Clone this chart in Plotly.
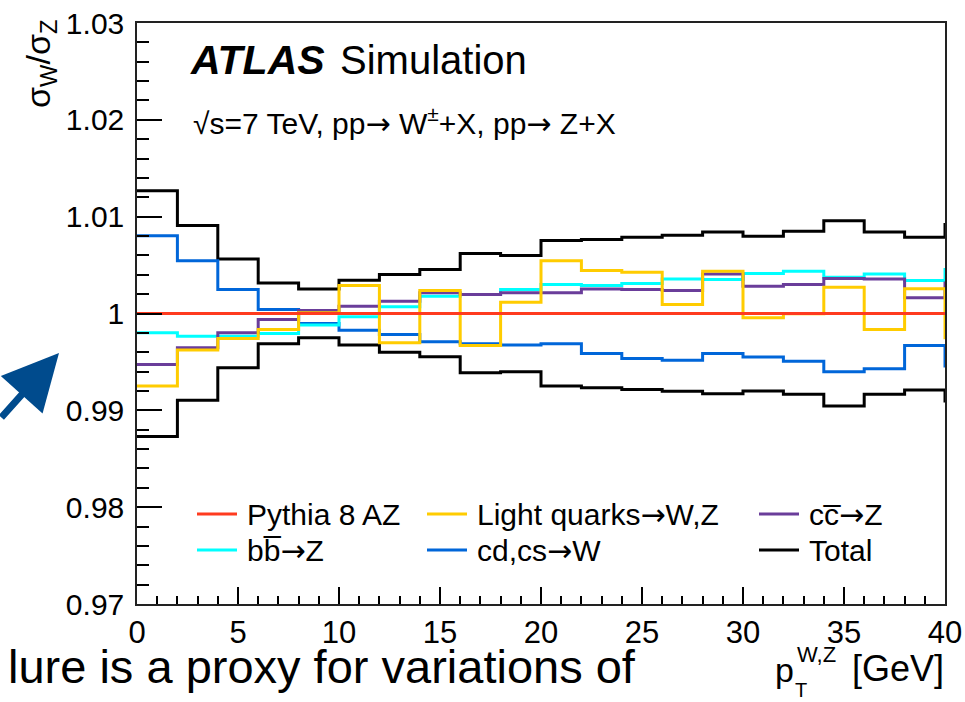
import plotly.graph_objects as go

# ---------------- data (bin left edges, 2 GeV bins; last value = first bin beyond 40 GeV) -------------
edges = [0, 2, 4, 6, 8, 10, 12, 14, 16, 18, 20, 22, 24, 26, 28, 30, 32, 34, 36, 38, 40, 42]

total_up = [1.01268, 1.00910, 1.00564, 1.00316, 1.00254, 1.00343, 1.00402, 1.00454, 1.00619, 1.00598,
            1.00753, 1.00763, 1.00787, 1.00807, 1.00842, 1.00797, 1.00849, 1.00959, 1.00842, 1.00787,
            1.00918]
total_down = [0.98729, 0.99103, 0.99440, 0.99688, 0.99749, 0.99674, 0.99601, 0.99553, 0.99388, 0.99399,
              0.99251, 0.99234, 0.99216, 0.99196, 0.99172, 0.99199, 0.99165, 0.99045, 0.99165, 0.99210,
              0.99096]
cdcs_w = [1.00804, 1.00546, 1.00247, 1.00041, 0.99897, 0.99828, 0.99784, 0.99708, 0.99688, 0.99674,
          0.99688, 0.99588, 0.99536, 0.99517, 0.99588, 0.99550, 0.99508, 0.99399, 0.99430, 0.99670,
          0.99457]
bb_z = [0.99801, 0.99766, 0.99766, 0.99794, 0.99880, 0.99966, 1.00069, 1.00179, 1.00196, 1.00247,
        1.00299, 1.00289, 1.00309, 1.00357, 1.00350, 1.00412, 1.00436, 1.00374, 1.00409, 1.00340,
        1.00454]
cc_z = [0.99474, 0.99646, 0.99801, 0.99938, 1.00031, 1.00076, 1.00127, 1.00213, 1.00196, 1.00213,
        1.00213, 1.00254, 1.00247, 1.00237, 1.00409, 1.00282, 1.00299, 1.00361, 1.00357, 1.00162,
        1.00316]
light_q = [0.99251, 0.99622, 0.99742, 0.99835, 1.00007, 1.00289, 0.99698, 1.00237, 0.99670, 1.00117,
           1.00546, 1.00443, 1.00426, 1.00093, 1.00436, 0.99956, 0.99997, 1.00271, 0.99835, 1.00255,
           0.99750]
pythia = [1.0, 1.0, 1.0, 1.0, 1.0, 1.0, 1.0, 1.0, 1.0, 1.0,
          1.0, 1.0, 1.0, 1.0, 1.0, 1.0, 1.0, 1.0, 1.0, 1.0,
          1.0]

y_tickvals = [0.97, 0.98, 0.99, 1.00, 1.01, 1.02, 1.03]
y_ticktext = ["0.97", "0.98", "0.99", "1", "1.01", "1.02", "1.03"]
x_tickvals = [0, 5, 10, 15, 20, 25, 30, 35, 40]
x_ticktext = ["0", "5", "10", "15", "20", "25", "30", "35", "40"]

# ---------------- styling -------------
W, H = 965, 702
L, R, T, B = 137, 945, 23, 604
FONT = "Liberation Sans, Arial, Helvetica, sans-serif"
ARROW = "<span style='font-family:DejaVu Sans'>→</span>"

C_RED = "#ff3b1f"
C_YEL = "#ffcc00"
C_PUR = "#6a3d9a"
C_CYA = "#00ffff"
C_BLU = "#0066d9"
C_BLK = "#000000"


def px(x):
    return (x - L) / (R - L)


def py(y):
    return (B - y) / (B - T)


def stepped(vals):
    return list(vals) + [vals[-1]]


fig = go.Figure()
series = [
    ("Total", total_up, C_BLK),
    ("Total", total_down, C_BLK),
    ("cd,cs→W", cdcs_w, C_BLU),
    ("bb→Z", bb_z, C_CYA),
    ("cc→Z", cc_z, C_PUR),
    ("Light quarks→W,Z", light_q, C_YEL),
    ("Pythia 8 AZ", pythia, C_RED),
]
for name, vals, col in series:
    fig.add_trace(go.Scatter(
        x=edges, y=stepped(vals), mode="lines", line_shape="hv",
        line=dict(color=col, width=3), name=name, showlegend=False,
        hoverinfo="skip"))

annotations = []
shapes = []

# legend (manual, ROOT-like 3 columns x 2 rows)
legend_items = [
    ("Pythia 8 AZ", C_RED, 197, 514),
    ("Light quarks" + ARROW + "W,Z", C_YEL, 427, 514),
    ("cc\u0305" + ARROW + "Z", C_PUR, 759, 514),
    ("bb\u0305" + ARROW + "Z", C_CYA, 197, 550),
    ("cd,cs" + ARROW + "W", C_BLU, 427, 550),
    ("Total", C_BLK, 759, 550),
]
for text, col, x0, yc in legend_items:
    shapes.append(dict(type="line", xref="paper", yref="paper",
                       x0=px(x0), x1=px(x0 + 40), y0=py(yc), y1=py(yc),
                       line=dict(color=col, width=3)))
    annotations.append(dict(xref="paper", yref="paper", x=px(x0 + 48), y=py(yc),
                            xanchor="left", yanchor="middle", showarrow=False,
                            text=text, font=dict(family=FONT, size=30, color="black")))

# ATLAS label
annotations.append(dict(xref="paper", yref="paper", x=px(188), y=py(60), xanchor="left",
                        yanchor="middle", showarrow=False, text="<b><i>ATLAS</i></b>",
                        font=dict(family=FONT, size=41, color="black")))
annotations.append(dict(xref="paper", yref="paper", x=px(338), y=py(60), xanchor="left",
                        yanchor="middle", showarrow=False, text="Simulation",
                        font=dict(family=FONT, size=40, color="black")))
annotations.append(dict(xref="paper", yref="paper", x=px(191), y=py(121), xanchor="left",
                        yanchor="middle", showarrow=False,
                        text="√s=7 TeV, pp" + ARROW + " W<sup>±</sup>+X, pp" + ARROW + " Z+X",
                        font=dict(family=FONT, size=30, color="black")))

# y-axis title
annotations.append(dict(xref="paper", yref="paper", x=px(40), y=py(64), xanchor="center",
                        yanchor="middle", showarrow=False, textangle=-90,
                        text="σ<sub>W</sub>/σ<sub>Z</sub>",
                        font=dict(family=FONT, size=34, color="black")))

# x-axis title (stacked sub/superscript)
annotations.append(dict(xref="paper", yref="paper", x=px(773), y=py(670), xanchor="left",
                        yanchor="middle", showarrow=False, text="p",
                        font=dict(family=FONT, size=34, color="black")))
annotations.append(dict(xref="paper", yref="paper", x=px(795), y=py(654), xanchor="left",
                        yanchor="middle", showarrow=False, text="W,Z",
                        font=dict(family=FONT, size=22, color="black")))
annotations.append(dict(xref="paper", yref="paper", x=px(793), y=py(690), xanchor="left",
                        yanchor="middle", showarrow=False, text="T",
                        font=dict(family=FONT, size=20, color="black")))
annotations.append(dict(xref="paper", yref="paper", x=px(946), y=py(668), xanchor="right",
                        yanchor="middle", showarrow=False, text="[GeV]",
                        font=dict(family=FONT, size=36, color="black")))

# slide text under the plot
annotations.append(dict(xref="paper", yref="paper", x=px(638), y=py(666), xanchor="right",
                        yanchor="middle", showarrow=False, text="lure is a proxy for variations of",
                        font=dict(family=FONT, size=47, color="black")))

# blue arrow from the slide
annotations.append(dict(xref="paper", yref="paper", x=px(59), y=py(353), showarrow=True,
                        ax=-85, ay=66, arrowhead=2, arrowsize=1.6, arrowwidth=7,
                        arrowcolor="#004b8d", text=""))

fig.update_layout(
    width=W, height=H,
    margin=dict(l=L, r=W - R, t=T, b=H - B, pad=0, autoexpand=False),
    paper_bgcolor="white", plot_bgcolor="white",
    showlegend=False,
    font=dict(family=FONT, size=30, color="black"),
    annotations=annotations, shapes=shapes,
    xaxis=dict(range=[0, 40], tickvals=x_tickvals, ticktext=x_ticktext, automargin=False,
               ticks="inside", ticklen=17, tickwidth=1.5, tickcolor="black",
               minor=dict(ticks="inside", ticklen=8, dtick=1, tickwidth=1.5, tickcolor="black"),
               showline=True, linecolor="#222", linewidth=1.5, mirror=True,
               showgrid=False, zeroline=False, ticklabelstandoff=0,
               tickfont=dict(family=FONT, size=31, color="black")),
    yaxis=dict(range=[0.97, 1.03], tickvals=y_tickvals, ticktext=y_ticktext, automargin=False,
               ticks="inside", ticklen=25, tickwidth=1.5, tickcolor="black",
               minor=dict(ticks="inside", ticklen=12, dtick=0.002, tickwidth=1.5, tickcolor="black"),
               showline=True, linecolor="#222", linewidth=1.5, mirror=True,
               showgrid=False, zeroline=False, ticklabelstandoff=5,
               tickfont=dict(family=FONT, size=30, color="black")),
)

fig.write_html("out.html")
